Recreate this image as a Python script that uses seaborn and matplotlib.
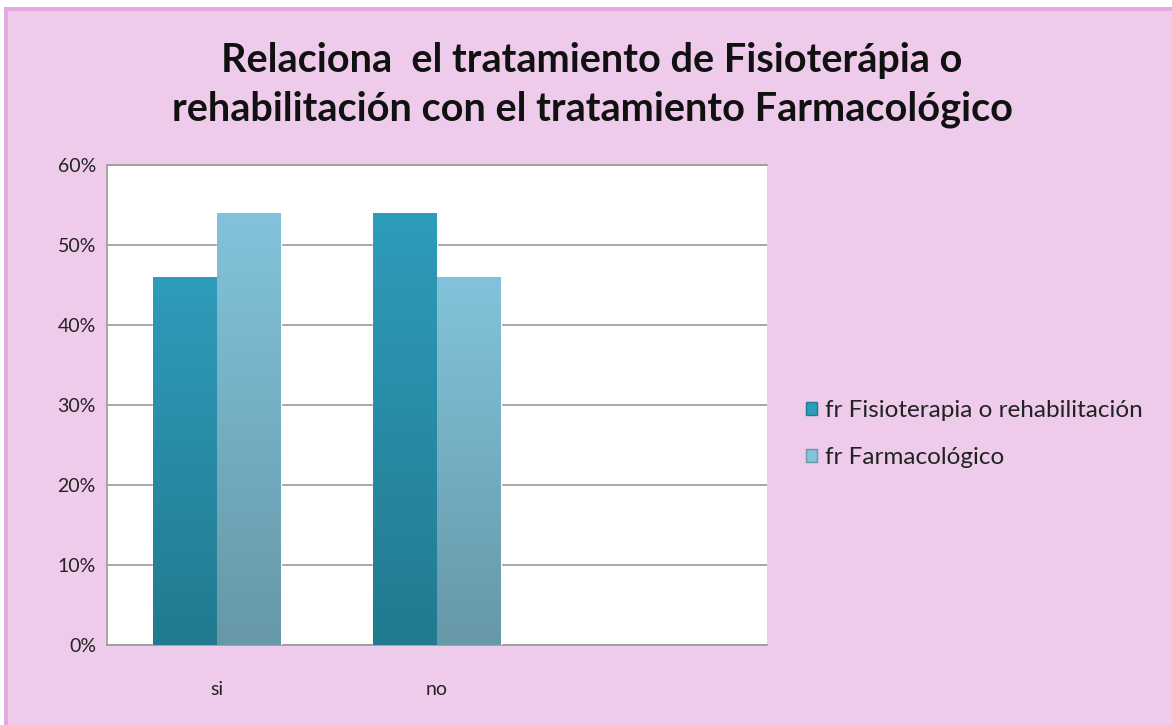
import numpy as np
import pandas as pd
import matplotlib
matplotlib.use("Agg")
import matplotlib.pyplot as plt
import seaborn as sns
from matplotlib.patches import Rectangle, Patch
from matplotlib.colors import LinearSegmentedColormap

categories = ["si", "no"]
series_names = ["fr Fisioterapia o rehabilitación", "fr Farmacológico"]
fisio = [0.46, 0.54]
farma = [0.54, 0.46]
ytick_vals = [0, 0.1, 0.2, 0.3, 0.4, 0.5, 0.6]
ytick_labels = ["0%", "10%", "20%", "30%", "40%", "50%", "60%"]
title = "Relaciona  el tratamiento de Fisioterápia o\nrehabilitación con el tratamiento Farmacológico"

df = pd.DataFrame({
    "cat": categories * 2,
    "serie": [series_names[0]] * 2 + [series_names[1]] * 2,
    "val": fisio + farma,
})

top_cols = {series_names[0]: "#2E9CBB", series_names[1]: "#82C3DB"}
bot_cols = {series_names[0]: "#227A8E", series_names[1]: "#6698A8"}

sns.set_theme(style="white")
plt.rcParams["font.family"] = ["Lato", "DejaVu Sans"]

W, H = 1172, 725
fig = plt.figure(figsize=(W / 100, H / 100), dpi=100)
fig.patch.set_facecolor("white")
bg = Rectangle((4 / W, 0), 1 - 4 / W, 1 - 7 / H, transform=fig.transFigure,
               facecolor="#E2AADE", edgecolor="none", zorder=-3)
fig.patches.append(bg)
bg2 = Rectangle((8 / W, 0), 1 - 8 / W, 1 - 11 / H, transform=fig.transFigure,
                facecolor="#EECBEA", edgecolor="none", zorder=-2)
fig.patches.append(bg2)

ax = fig.add_axes([107 / W, 80 / H, 660 / W, 480 / H])
ax.set_facecolor("white")

sns.barplot(data=df, x="cat", y="val", hue="serie", order=categories,
            hue_order=series_names, palette=top_cols, width=0.58,
            ax=ax, legend=False, zorder=3)

for i, p in enumerate(ax.patches):
    s = series_names[i // len(categories)]
    cmap = LinearSegmentedColormap.from_list("g", [bot_cols[s], top_cols[s]])
    x0, y0 = p.get_x(), p.get_y()
    w, h = p.get_width(), p.get_height()
    grad = np.linspace(0, 1, 256).reshape(-1, 1)
    ax.imshow(grad, cmap=cmap, origin="lower", aspect="auto",
              extent=(x0, x0 + w, y0, y0 + h), zorder=4)
ax.set_xlim(-0.5, 2.5)
ax.set_ylim(0, 0.6)

ax.set_yticks(ytick_vals)
ax.set_yticklabels(ytick_labels, fontsize=14, color="#222222")
ax.set_xticks(range(len(categories)))
ax.set_xticklabels(categories, fontsize=14, color="#222222")
ax.tick_params(axis="both", length=0)
ax.tick_params(axis="y", pad=8)
ax.tick_params(axis="x", pad=26)
ax.set_xlabel("")
ax.set_ylabel("")
ax.yaxis.grid(True, color="#9A9A9A", linewidth=1.2, zorder=1)
ax.set_axisbelow(True)
ax.spines["right"].set_visible(False)
for side in ["left", "bottom", "top"]:
    ax.spines[side].set_color("#9A9A9A")
    ax.spines[side].set_linewidth(1.2)

fig.text(592 / W, 1 - 85 / H, title, ha="center", va="center",
         fontsize=28.5, fontweight="bold", color="#111111", linespacing=1.4)

handles = [Patch(facecolor=top_cols[s], edgecolor=bot_cols[s]) for s in series_names]
fig.legend(handles, series_names, loc="center left",
           bbox_to_anchor=(806 / W, 1 - 434 / H), frameon=False, borderpad=0,
           borderaxespad=0,
           fontsize=17.5, handlelength=0.45, handleheight=0.45, handletextpad=0.35,
           labelspacing=1.05, labelcolor="#222222")

fig.savefig("out.png", dpi=100, facecolor=fig.get_facecolor())
